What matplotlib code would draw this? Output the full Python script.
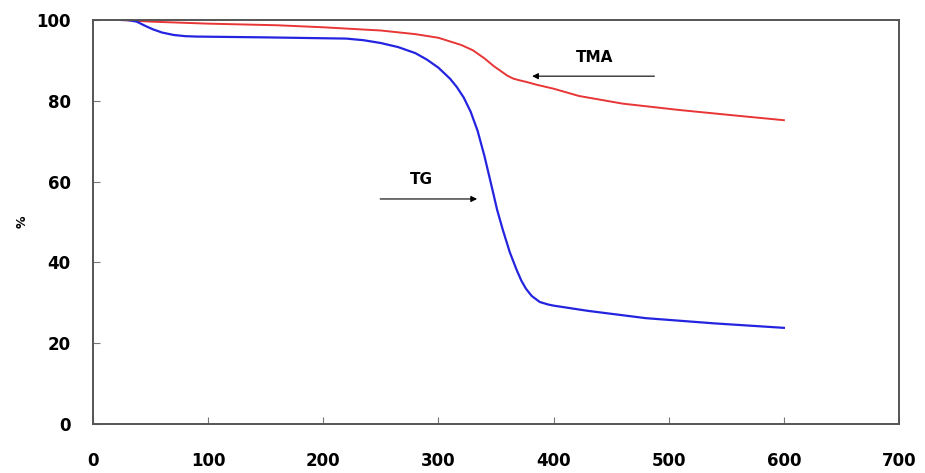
import numpy as np
import matplotlib
matplotlib.use("Agg")
import matplotlib.pyplot as plt

# temperature / % readings
tg_x = [25, 30, 38, 45, 52, 60, 70, 80, 90, 150, 220, 235, 250, 265, 280,
        290, 300, 310, 316, 322, 328, 334, 340, 344, 347, 351, 356, 362, 368,
        372, 376, 381, 388, 395, 400, 430, 480, 540, 600]
tg_y = [100, 100, 99.6, 98.6, 97.7, 96.9, 96.3, 96.0, 95.9, 95.7, 95.4, 95.0,
        94.3, 93.3, 91.8, 90.2, 88.2, 85.5, 83.4, 80.8, 77.3, 72.6, 66.3, 61.5,
        57.9, 53.0, 48.0, 42.5, 38.1, 35.5, 33.5, 31.7, 30.2, 29.6, 29.3, 28.0,
        26.2, 24.9, 23.8]

tma_x = [25, 50, 100, 160, 200, 250, 280, 300, 320, 330, 340, 348, 355, 360,
         365, 370, 376, 385, 400, 422, 460, 510, 560, 600]
tma_y = [100, 99.6, 99.1, 98.7, 98.2, 97.4, 96.5, 95.6, 93.8, 92.5, 90.5, 88.6,
         87.2, 86.2, 85.5, 85.1, 84.7, 84.0, 83.0, 81.2, 79.3, 77.7, 76.3, 75.2]

x_ticks = [0, 100, 200, 300, 400, 500, 600, 700]
y_ticks = [0, 20, 40, 60, 80, 100]

fig = plt.figure(figsize=(9.25, 4.73), dpi=100)
ax = fig.add_axes([0.1005, 0.1036, 0.8714, 0.8541])

ax.plot(tma_x, tma_y, color="#e83535", linewidth=1.4)
ax.plot(tg_x, tg_y, color="#2424e0", linewidth=1.6)

ax.set_xlim(0, 700)
ax.set_ylim(0, 100)
ax.set_xticks(x_ticks)
ax.set_yticks(y_ticks)
ax.tick_params(direction="in", length=5, width=0.8, colors="#777777",
               labelcolor="black", labelsize=12)
ax.tick_params(axis="x", pad=20)
ax.tick_params(axis="y", pad=16)
for lab in ax.get_xticklabels() + ax.get_yticklabels():
    lab.set_fontweight("bold")
for s in ax.spines.values():
    s.set_color("#555555")
    s.set_linewidth(1.4)

ax.set_ylabel("%", fontsize=9, fontweight="bold", rotation=90)
ax.yaxis.set_label_coords(-0.08, 0.5)

arrow = dict(arrowstyle="-|>", color="black", lw=0.8, mutation_scale=9)
ax.annotate("", xy=(379, 86.1), xytext=(490, 86.1), arrowprops=arrow)
ax.text(436, 90.6, "TMA", fontsize=11, fontweight="bold", ha="center", va="center")
ax.annotate("", xy=(336, 55.7), xytext=(247, 55.7), arrowprops=arrow)
ax.text(285, 60.4, "TG", fontsize=11, fontweight="bold", ha="center", va="center")

fig.savefig("out.png", dpi=100)
